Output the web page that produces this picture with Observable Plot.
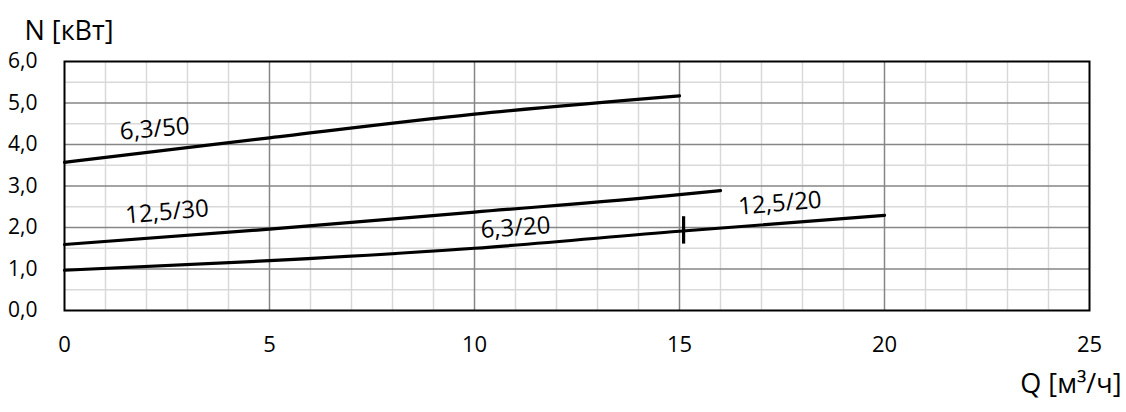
<!DOCTYPE html>
<html>
<head>
<meta charset="utf-8">
<script src="https://cdn.jsdelivr.net/npm/d3@7"></script>
<script src="https://cdn.jsdelivr.net/npm/@observablehq/plot@0.6"></script>
<style>
  html, body { margin: 0; padding: 0; background: #fff; }
  svg { display: block; }
</style>
</head>
<body>
<div id="chart"></div>
<script>
// ---- axis ticks & grid ----
const xTicks = [0, 5, 10, 15, 20, 25];
const yTicks = [0, 1, 2, 3, 4, 5, 6];
const yTickLabels = ["0,0", "1,0", "2,0", "3,0", "4,0", "5,0", "6,0"];
const xMajorGrid = [5, 10, 15, 20];
const xMinorGrid = [1, 2, 3, 4, 6, 7, 8, 9, 11, 12, 13, 14, 16, 17, 18, 19, 21, 22, 23, 24];
const yMajorGrid = [1, 2, 3, 4, 5];
const yMinorGrid = [0.5, 1.5, 2.5, 3.5, 4.5, 5.5];
const xTitle = "Q [м³/ч]";
const yTitle = "N [кВт]";

// ---- series: pump power N [кВт] vs flow Q [м³/ч] ----
const q_63_50 = [0, 5, 10, 15];
const n_63_50 = [3.57, 4.16, 4.73, 5.17];
const q_125_30 = [0, 5, 10, 15, 16];
const n_125_30 = [1.59, 1.96, 2.37, 2.79, 2.89];
const q_20 = [0, 5, 10, 15, 20];
const n_20 = [0.97, 1.20, 1.50, 1.91, 2.29];

// boundary marker between 6,3/20 and 12,5/20
const markerQ = [15.1];
const markerNlow = [1.60];
const markerNhigh = [2.26];

// ---- curve labels ----
const labelText = ["6,3/50", "12,5/30", "6,3/20", "12,5/20"];
const labelQ = [2.2, 2.5, 11.0, 17.45];
const labelN = [4.37, 2.37, 1.99, 2.58];
const labelAngle = [-5, -5, -4, -5];

// ---- build tables ----
const toRows = (qs, ns) => qs.map((q, i) => ({q, n: ns[i]}));
const series = [toRows(q_63_50, n_63_50), toRows(q_125_30, n_125_30), toRows(q_20, n_20)];
const markers = markerQ.map((q, i) => ({q, n1: markerNlow[i], n2: markerNhigh[i]}));
const labels = labelText.map((t, i) => ({t, q: labelQ[i], n: labelN[i], a: labelAngle[i]}));

const chart = Plot.plot({
  width: 1126,
  height: 412,
  marginLeft: 64,
  marginRight: 37,
  marginTop: 61,
  marginBottom: 102,
  x: {domain: [0, 25]},
  y: {domain: [0, 6]},
  style: {fontFamily: "'Open Sans', sans-serif", color: "#000", background: "#fff"},
  marks: [
    Plot.ruleX(xMinorGrid, {stroke: "#d9d9d9", strokeWidth: 1.5}),
    Plot.ruleY(yMinorGrid, {stroke: "#d9d9d9", strokeWidth: 1.5}),
    Plot.ruleX(xMajorGrid, {stroke: "#868686", strokeWidth: 1.5}),
    Plot.ruleY(yMajorGrid, {stroke: "#868686", strokeWidth: 1.5}),
    Plot.text(labels, {x: "q", y: "n", text: "t", rotate: "a", fontSize: 24, fill: "#000", ariaLabel: "curve-labels"}),
    ...series.map(s => Plot.line(s, {x: "q", y: "n", curve: "monotone-x", stroke: "#000", strokeWidth: 3.2})),
    Plot.ruleX(markers, {x: "q", y1: "n1", y2: "n2", stroke: "#000", strokeWidth: 3.2}),
    Plot.frame({stroke: "#000", strokeWidth: 2}),
    Plot.axisX({ticks: xTicks, tickSize: 0, tickPadding: 26, fontSize: 22, label: null}),
    Plot.axisY({ticks: yTicks, tickFormat: (d, i) => yTickLabels[i], tickSize: 0, tickPadding: 27, fontSize: 21, label: null}),
    Plot.text([yTitle], {frameAnchor: "top-left", textAnchor: "start", dx: -40, dy: -41, fontSize: 27, fill: "#000"}),
    Plot.text([xTitle], {frameAnchor: "bottom-right", textAnchor: "end", dx: 32, dy: 82, fontSize: 27, fill: "#000"})
  ]
});

document.getElementById("chart").appendChild(chart);

// white boxes behind the curve labels
d3.select(chart).selectAll('g[aria-label="curve-labels"] text').each(function () {
  const b = this.getBBox();
  const padX = 15, padY = 2;
  d3.select(this.parentNode).insert("rect", () => this)
    .attr("x", b.x - padX)
    .attr("y", b.y - padY)
    .attr("width", b.width + 2 * padX)
    .attr("height", b.height + 2 * padY)
    .attr("fill", "#fff")
    .attr("stroke", "none")
    .attr("transform", this.getAttribute("transform"));
});
</script>
</body>
</html>
